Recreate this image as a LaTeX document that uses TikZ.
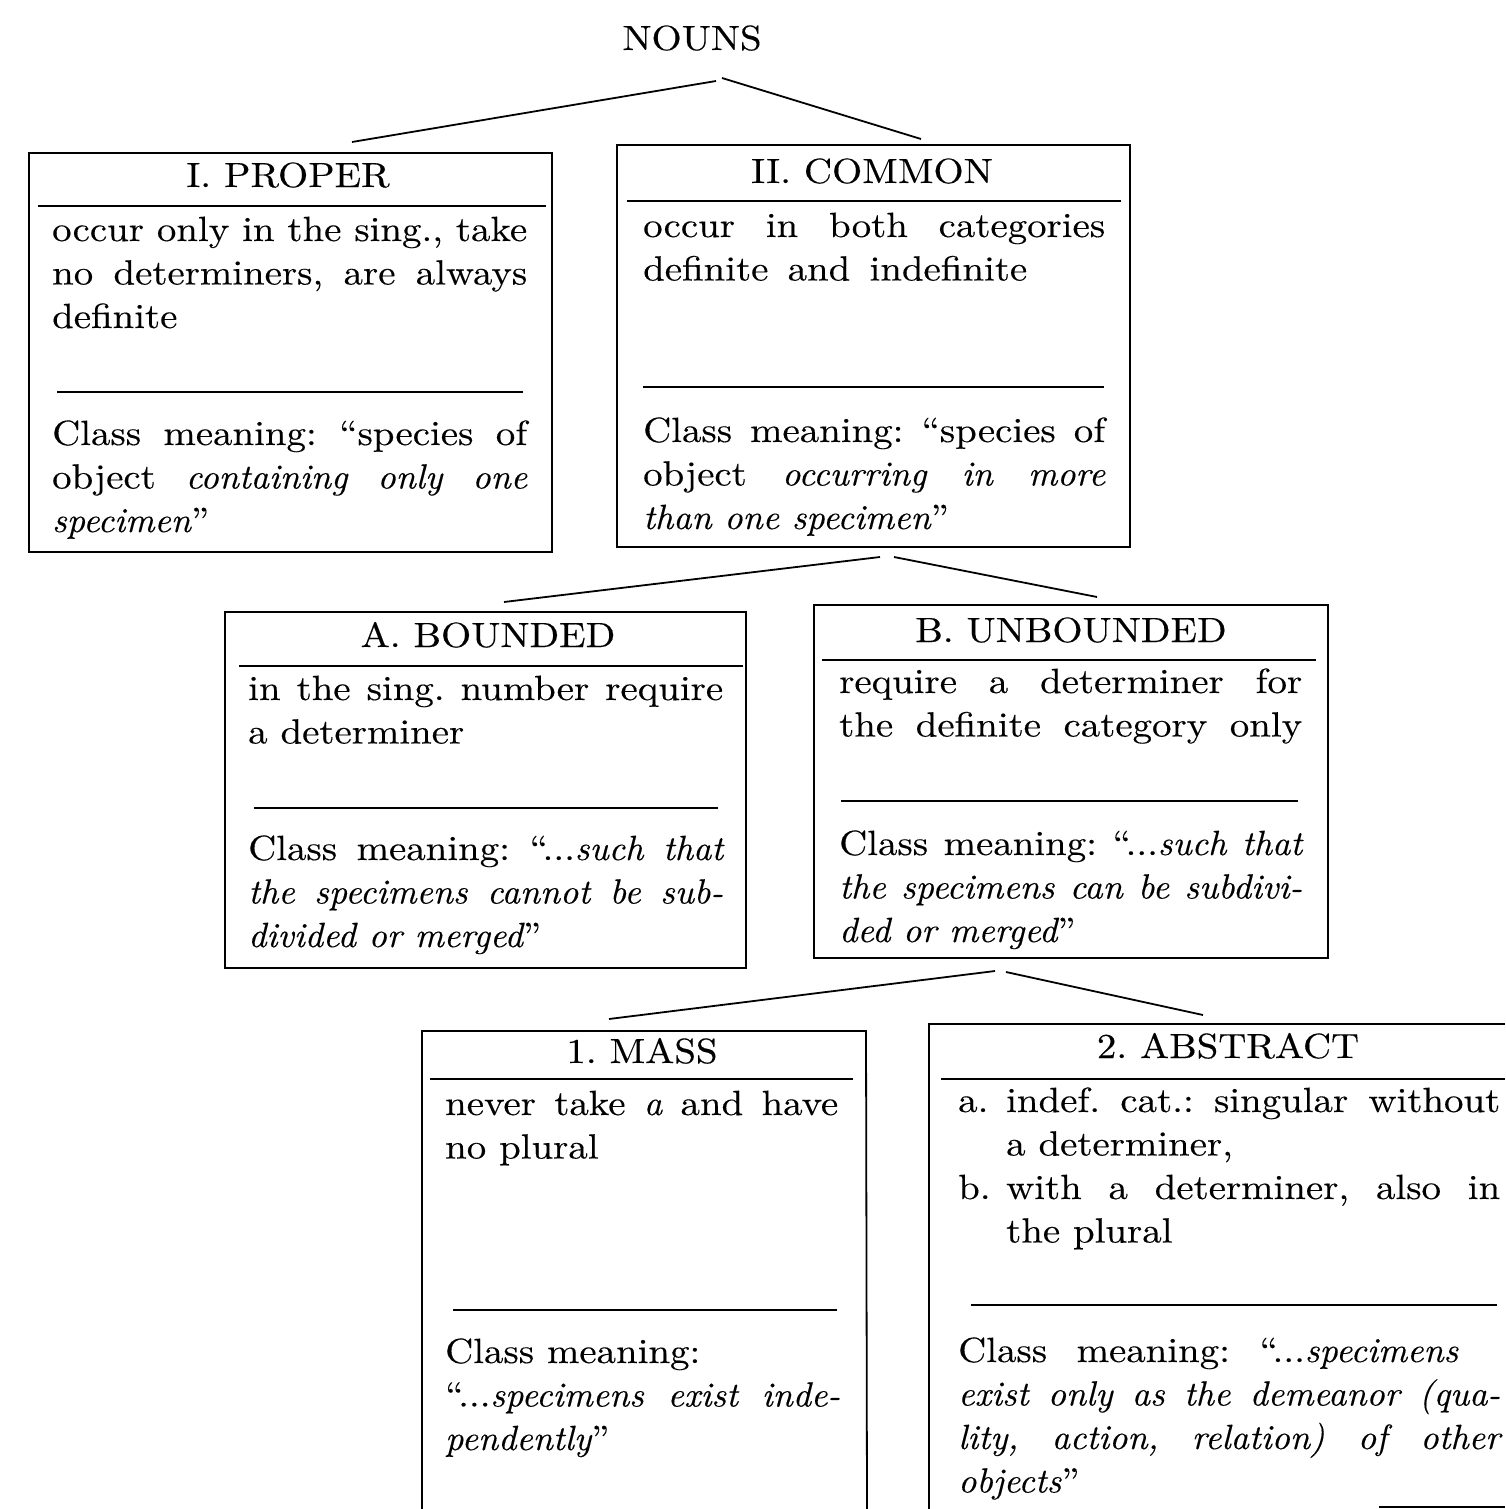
\documentclass[tikz,border=0pt]{standalone}
\usepackage{fontspec}
\newfontfamily\rmw{lmroman10-regular.otf}[FakeStretch=1.11, FakeBold=0.3]
\newfontfamily\itw{lmroman10-italic.otf}[FakeStretch=1.02, FakeBold=0.3]
\newcommand\ital[1]{{\itw #1}}
\newcommand\fs{\rmw\fontsize{35}{43.5}\selectfont\frenchspacing}
\newcommand\jline[2]{\makebox[#1][s]{#2}}
\tikzset{
  frame/.style={draw, line width=1.8pt, inner sep=0pt, outer sep=0pt, anchor=north west},
  rule/.style={line width=1.8pt},
  conn/.style={line width=1.8pt},
  ttl/.style={anchor=base, inner sep=0pt, font=\fs},
  body/.style={anchor=base west, inner sep=0pt, font=\fs},
}
\begin{document}
\begin{tikzpicture}[x=1pt,y=-1pt]
\useasboundingbox (0,0) rectangle (1505,1509);

% ---- title
\node[ttl] (nouns) at (692,50) {NOUNS};

% ---- boxes
\node[frame, minimum width=523pt, minimum height=399pt] (proper) at (29,153) {};
\node[frame, minimum width=513pt, minimum height=402pt] (common) at (617,145) {};
\node[frame, minimum width=521pt, minimum height=356pt] (bounded) at (225,612) {};
\node[frame, minimum width=514pt, minimum height=353pt] (unbounded) at (814,605) {};
\draw[rule] (422,1509) |- (866,1031) -- (867,1509);
\draw[rule] (929,1509) |- (1505,1024);
\draw[rule] (1379,1507) -- (1505,1507);

% ---- connectors
\coordinate (a1l) at (716,81);  \coordinate (a1r) at (722,78);
\coordinate (e1l) at (352,142); \coordinate (e1r) at (921,139);
\draw[conn] (a1l) -- (e1l);
\draw[conn] (a1r) -- (e1r);
\coordinate (a2l) at (880,557); \coordinate (a2r) at (894,557);
\coordinate (e2l) at (504,602); \coordinate (e2r) at (1097,597);
\draw[conn] (a2l) -- (e2l);
\draw[conn] (a2r) -- (e2r);
\coordinate (a3l) at (995,971); \coordinate (a3r) at (1006,972);
\coordinate (e3l) at (609,1019); \coordinate (e3r) at (1203,1015);
\draw[conn] (a3l) -- (e3l);
\draw[conn] (a3r) -- (e3r);

% ---- I. PROPER
\node[ttl] (tproper) at (288,187) {I. PROPER};
\draw[rule] (38,206) -- (546,206);
\node[body] (bproper) at (52,241) {\parbox[t]{475pt}{\fs
  \jline{475pt}{occur only in the sing., take}\\
  \jline{475pt}{no determiners, are always}\\
  definite}};
\draw[rule] (57,392) -- (523,392);
\node[body] (cproper) at (52,445) {\parbox[t]{475pt}{\fs
  \jline{475pt}{Class meaning: “species of}\\
  \jline{475pt}{object \ital{containing} \ital{only} \ital{one}}\\
  \ital{specimen}”}};

% ---- II. COMMON
\node[ttl] (tcommon) at (872,183) {II. COMMON};
\draw[rule] (627,201) -- (1121,201);
\node[body] (bcommon) at (643,237) {\parbox[t]{462pt}{\fs
  \jline{462pt}{occur in both categories}\\
  \jline{384pt}{definite and indefinite}}};
\draw[rule] (643,387) -- (1104,387);
\node[body] (ccommon) at (643,442) {\parbox[t]{462pt}{\fs
  \jline{462pt}{Class meaning: “species of}\\
  \jline{462pt}{object \ital{occurring} \ital{in} \ital{more}}\\
  \ital{than one specimen}”}};

% ---- A. BOUNDED
\node[ttl] (tbounded) at (488,647) {A. BOUNDED};
\draw[rule] (239,666) -- (743,666);
\node[body] (bbounded) at (248,700) {\parbox[t]{475pt}{\fs
  \jline{475pt}{in the sing. number require}\\
  a determiner}};
\draw[rule] (254,808) -- (718,808);
\node[body] (cbounded) at (248,860) {\parbox[t]{475pt}{\fs
  \jline{475pt}{Class meaning: “...\ital{such} \ital{that}}\\
  \jline{475pt}{\ital{the} \ital{specimens} \ital{cannot} \ital{be} \ital{sub-}}\\
  \ital{divided or merged}”}};

% ---- B. UNBOUNDED
\node[ttl] (tunbounded) at (1071,642) {B. UNBOUNDED};
\draw[rule] (822,660) -- (1316,660);
\node[body] (bunbounded) at (839,693) {\parbox[t]{463pt}{\fs
  \jline{463pt}{require a determiner for}\\
  \jline{463pt}{the definite category only}}};
\draw[rule] (841,801) -- (1298,801);
\node[body] (cunbounded) at (839,855) {\parbox[t]{463pt}{\fs
  \jline{463pt}{Class meaning: “...\ital{such} \ital{that}}\\
  \jline{463pt}{\ital{the} \ital{specimens} \ital{can} \ital{be} \ital{subdivi-}}\\
  \ital{ded or merged}”}};

% ---- 1. MASS
\node[ttl] (tmass) at (642,1063) {1. MASS};
\draw[rule] (430,1079) -- (853,1079);
\node[body] (bmass) at (445,1115) {\parbox[t]{395pt}{\fs
  \jline{393pt}{never take \ital{a} and have}\\
  no plural}};
\draw[rule] (453,1310) -- (837,1310);
\node[body] (cmass) at (445,1363) {\parbox[t]{395pt}{\fs
  Class meaning:\\
  \jline{395pt}{“...\ital{specimens} \ital{exist} \ital{inde-}}\\
  \ital{pendently}”}};

% ---- 2. ABSTRACT
\node[ttl] (tabstract) at (1228,1058) {2. ABSTRACT};
\draw[rule] (941,1079) -- (1505,1079);
\node[body] (babstract) at (958,1112) {\parbox[t]{542pt}{\fs
  \makebox[48pt][l]{a.}\jline{494pt}{indef. cat.: singular without}\\
  \hspace*{48pt}a determiner,\\
  \makebox[48pt][l]{b.}\jline{494pt}{with a determiner, also in}\\
  \hspace*{48pt}the plural}};
\draw[rule] (971,1305) -- (1497,1305);
\node[body] (cabstract) at (958,1362) {\parbox[t]{542pt}{\fs
  \jline{500pt}{Class meaning: “...\ital{specimens}}\\
  \jline{542pt}{\ital{exist} \ital{only} \ital{as} \ital{the} \ital{demeanor} \ital{(qua-}}\\
  \jline{542pt}{\ital{lity,} \ital{action,} \ital{relation)} \ital{of} \ital{other}}\\
  \ital{objects}”}};
\end{tikzpicture}
\end{document}
